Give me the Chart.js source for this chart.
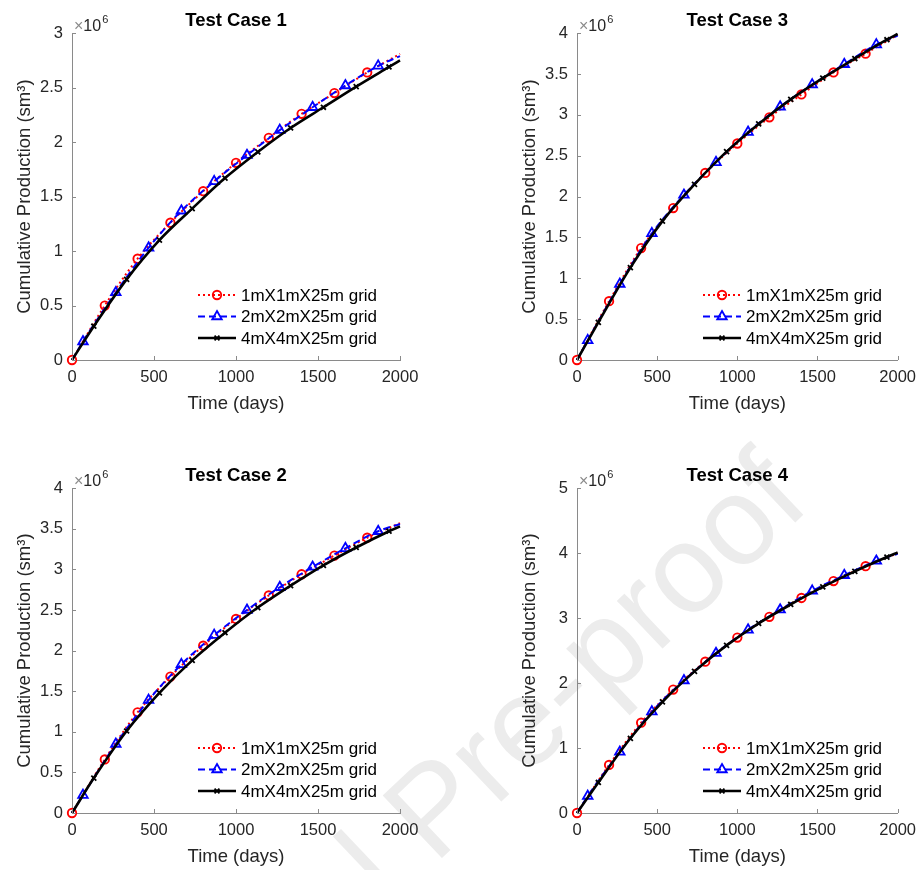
<!DOCTYPE html>
<html>
<head>
<meta charset="utf-8">
<title>Cumulative production - grid sensitivity</title>
<script src="https://cdn.jsdelivr.net/npm/chart.js@4.4.1/dist/chart.umd.min.js"></script>
<style>
  body { margin: 0; background: #fff; }
  #wrap { position: relative; width: 924px; height: 870px; overflow: hidden; background: #fff; }
  .watermark {
    position: absolute; left: 112px; top: 1065px;
    font: 125px "Liberation Sans", Arial, sans-serif; line-height: 125px;
    color: #ececec; white-space: nowrap;
    transform-origin: 0 106px; transform: rotate(-43.5deg);
  }
  .panel { position: absolute; width: 462px; height: 435px; }
</style>
</head>
<body>
<div id="wrap">
  <div class="watermark">Journal Pre-proof</div>
  <div class="panel" style="left:0;top:0"><canvas id="case1" width="462" height="435"></canvas></div>
  <div class="panel" style="left:462px;top:0"><canvas id="case3" width="462" height="435"></canvas></div>
  <div class="panel" style="left:0;top:435px"><canvas id="case2" width="462" height="435"></canvas></div>
  <div class="panel" style="left:462px;top:435px"><canvas id="case4" width="462" height="435"></canvas></div>
</div>
<script>
// ---------- Data (cumulative production, x10^6 sm3) ----------
const seriesLabels = ["1mX1mX25m grid", "2mX2mX25m grid", "4mX4mX25m grid"];
const caseTitles = ["Test Case 1", "Test Case 2", "Test Case 3", "Test Case 4"];

const timeRed   = [0, 200, 400, 600, 800, 1000, 1200, 1400, 1600, 1800, 2000];
const timeBlue  = [0, 67, 267, 467, 667, 867, 1067, 1267, 1467, 1667, 1867, 2000];
const timeBlack = [0, 133, 333, 533, 733, 933, 1133, 1333, 1533, 1733, 1933, 2000];

const red1   = [0, 0.50, 0.93, 1.26, 1.55, 1.81, 2.04, 2.26, 2.45, 2.64, 2.81];
const blue1  = [0, 0.17, 0.62, 1.03, 1.37, 1.64, 1.88, 2.11, 2.32, 2.52, 2.70, 2.79];
const black1 = [0, 0.31, 0.74, 1.10, 1.39, 1.67, 1.91, 2.13, 2.32, 2.51, 2.69, 2.75];

const red2   = [0, 0.66, 1.24, 1.68, 2.06, 2.39, 2.68, 2.94, 3.17, 3.39, 3.57];
const blue2  = [0, 0.22, 0.85, 1.39, 1.83, 2.19, 2.50, 2.78, 3.03, 3.26, 3.47, 3.56];
const black2 = [0, 0.43, 1.01, 1.48, 1.88, 2.22, 2.53, 2.80, 3.05, 3.27, 3.47, 3.53];

const red3   = [0, 0.72, 1.37, 1.86, 2.29, 2.65, 2.97, 3.25, 3.52, 3.75, 3.98];
const blue3  = [0, 0.24, 0.93, 1.55, 2.02, 2.42, 2.79, 3.10, 3.37, 3.62, 3.86, 3.97];
const black3 = [0, 0.46, 1.13, 1.70, 2.15, 2.55, 2.89, 3.19, 3.45, 3.69, 3.92, 3.99];

const red4   = [0, 0.74, 1.39, 1.90, 2.33, 2.70, 3.02, 3.31, 3.57, 3.80, 4.00];
const blue4  = [0, 0.26, 0.94, 1.56, 2.04, 2.46, 2.82, 3.13, 3.42, 3.66, 3.88, 3.99];
const black4 = [0, 0.47, 1.15, 1.71, 2.18, 2.58, 2.92, 3.21, 3.48, 3.72, 3.94, 4.01];

const xTicks  = [0, 500, 1000, 1500, 2000];
const yTicks3 = [0, 0.5, 1, 1.5, 2, 2.5, 3];
const yTicks4 = [0, 0.5, 1, 1.5, 2, 2.5, 3, 3.5, 4];
const yTicks5 = [0, 1, 2, 3, 4, 5];

// ---------- Styles ----------
const FONT = '"Liberation Sans", Arial, Helvetica, sans-serif';
const AXIS_COLOR = "#8a8a8a";
const TEXT_COLOR = "#262626";

// ---------- Plugins ----------
function drawMarker(ctx, style, radius, borderWidth, x, y) {
  if (Chart.helpers && Chart.helpers.drawPoint) {
    Chart.helpers.drawPoint(ctx, { pointStyle: style, radius, borderWidth, rotation: 0 }, x, y);
    return;
  }
  ctx.beginPath();
  ctx.arc(x, y, radius, 0, Math.PI * 2);
  ctx.stroke();
}

const insideLegend = {
  id: "insideLegend",
  afterDatasetsDraw(chart) {
    const { ctx, chartArea } = chart;
    const textLeft = chartArea.left + 169;
    const sets = chart.data.datasets;
    ctx.save();
    ctx.font = "17px " + FONT;
    ctx.textBaseline = "middle";
    sets.forEach((ds, i) => {
      const y = chartArea.bottom - 22 - (sets.length - 1 - i) * 21.5;
      ctx.strokeStyle = ds.borderColor;
      ctx.lineWidth = ds.borderWidth;
      ctx.setLineDash(ds.borderDash || []);
      ctx.beginPath();
      ctx.moveTo(textLeft - 43, y);
      ctx.lineTo(textLeft - 5, y);
      ctx.stroke();
      ctx.setLineDash([]);
      ctx.lineWidth = ds.pointBorderWidth;
      ctx.fillStyle = "rgba(0,0,0,0)";
      drawMarker(ctx, ds.pointStyle, ds.markerSize, ds.pointBorderWidth, textLeft - 24, y);
      ctx.fillStyle = "#000";
      ctx.fillText(ds.label, textLeft, y + 1);
    });
    ctx.restore();
  }
};

const axisExtras = {
  id: "axisExtras",
  afterDraw(chart) {
    const { ctx, chartArea, scales: { x, y } } = chart;
    ctx.save();
    // inward tick marks
    ctx.strokeStyle = AXIS_COLOR;
    ctx.lineWidth = 1;
    ctx.beginPath();
    x.ticks.forEach(t => {
      const px = Math.round(x.getPixelForValue(t.value)) + 0.5;
      ctx.moveTo(px, chartArea.bottom);
      ctx.lineTo(px, chartArea.bottom - 4);
    });
    y.ticks.forEach(t => {
      const py = Math.round(y.getPixelForValue(t.value)) + 0.5;
      ctx.moveTo(chartArea.left, py);
      ctx.lineTo(chartArea.left + 4, py);
    });
    ctx.stroke();
    // exponent label
    ctx.textBaseline = "alphabetic";
    ctx.textAlign = "left";
    ctx.font = "16px " + FONT;
    ctx.fillStyle = "#8a8a8a";
    ctx.fillText("\u00d7", chartArea.left + 2, chartArea.top - 2);
    const w = ctx.measureText("\u00d7").width;
    ctx.fillStyle = TEXT_COLOR;
    ctx.fillText("10", chartArea.left + 2 + w, chartArea.top - 2);
    const w2 = ctx.measureText("10").width;
    ctx.font = "11px " + FONT;
    ctx.fillText("6", chartArea.left + 3 + w + w2, chartArea.top - 10);
    ctx.restore();
  }
};

// ---------- Chart builder ----------
function points(times, values) {
  return times.map((t, i) => ({ x: t, y: values[i] }));
}

function markerRadii(times, r, skipFirst) {
  return times.map((t, i) => (i === times.length - 1 || (skipFirst && i === 0)) ? 0 : r);
}

function makeCase(canvasId, title, yTicks, red, blue, black, pad) {
  const datasets = [
    {
      label: seriesLabels[0],
      data: points(timeRed, red),
      borderColor: "#ff0000", borderWidth: 2, borderDash: [2, 3],
      pointStyle: "circle", markerSize: 4.2, pointRadius: markerRadii(timeRed, 4.2, false),
      pointBorderWidth: 1.9, pointBorderColor: "#ff0000", pointBackgroundColor: "rgba(0,0,0,0)",
      order: 2
    },
    {
      label: seriesLabels[1],
      data: points(timeBlue, blue),
      borderColor: "#0000ff", borderWidth: 2, borderDash: [7, 4],
      pointStyle: "triangle", markerSize: 5.5, pointRadius: markerRadii(timeBlue, 5.5, true),
      pointBorderWidth: 1.8, pointBorderColor: "#0000ff", pointBackgroundColor: "rgba(0,0,0,0)",
      order: 1
    },
    {
      label: seriesLabels[2],
      data: points(timeBlack, black),
      borderColor: "#000000", borderWidth: 2.6, borderDash: [],
      pointStyle: "crossRot", markerSize: 3.5, pointRadius: markerRadii(timeBlack, 3.5, true),
      pointBorderWidth: 1.8, pointBorderColor: "#000000", pointBackgroundColor: "rgba(0,0,0,0)",
      order: 0
    }
  ];
  datasets.forEach(ds => {
    ds.cubicInterpolationMode = "monotone";
    ds.fill = false;
    ds.clip = false;
    ds.pointHoverRadius = 0;
  });

  return new Chart(document.getElementById(canvasId), {
    type: "line",
    data: { datasets },
    options: {
      responsive: false,
      animation: false,
      events: [],
      layout: { padding: pad },
      plugins: {
        legend: { display: false },
        tooltip: { enabled: false },
        title: {
          display: true, text: title, fullSize: false, color: "#000",
          font: { family: FONT, size: 18.5, weight: "bold" },
          padding: { top: 10, bottom: 1 }
        }
      },
      scales: {
        x: {
          type: "linear", min: 0, max: 2000,
          afterBuildTicks: s => { s.ticks = xTicks.map(v => ({ value: v })); },
          afterFit: s => { s.height = 56; },
          grid: { display: false, drawTicks: false },
          border: { display: true, color: AXIS_COLOR, width: 1 },
          ticks: {
            font: { family: FONT, size: 16.5 }, color: TEXT_COLOR, padding: 8,
            maxRotation: 0, autoSkip: false, callback: v => String(v)
          },
          title: {
            display: true, text: "Time (days)", color: TEXT_COLOR,
            font: { family: FONT, size: 18.5 }, padding: { top: 0, bottom: 1 }
          }
        },
        y: {
          type: "linear", min: yTicks[0], max: yTicks[yTicks.length - 1],
          afterBuildTicks: s => { s.ticks = yTicks.map(v => ({ value: v })); },
          afterFit: s => { s.width = 72; },
          grid: { display: false, drawTicks: false },
          border: { display: true, color: AXIS_COLOR, width: 1 },
          ticks: {
            font: { family: FONT, size: 16.5 }, color: TEXT_COLOR, padding: 9,
            autoSkip: false, callback: v => String(v)
          },
          title: {
            display: true, text: "Cumulative Production (sm\u00b3)", color: TEXT_COLOR,
            font: { family: FONT, size: 18.5 }, padding: { top: 14, bottom: 0 }
          }
        }
      }
    },
    plugins: [insideLegend, axisExtras]
  });
}

// ---------- Init ----------
makeCase("case1", caseTitles[0], yTicks3, red1, blue1, black1, { left: 0, right: 62, top: 0, bottom: 19 });
makeCase("case3", caseTitles[2], yTicks4, red3, blue3, black3, { left: 43, right: 20, top: 0, bottom: 19 });
makeCase("case2", caseTitles[1], yTicks4, red2, blue2, black2, { left: 0, right: 62, top: 20, bottom: 1 });
makeCase("case4", caseTitles[3], yTicks5, red4, blue4, black4, { left: 43, right: 20, top: 20, bottom: 1 });
</script>
</body>
</html>
